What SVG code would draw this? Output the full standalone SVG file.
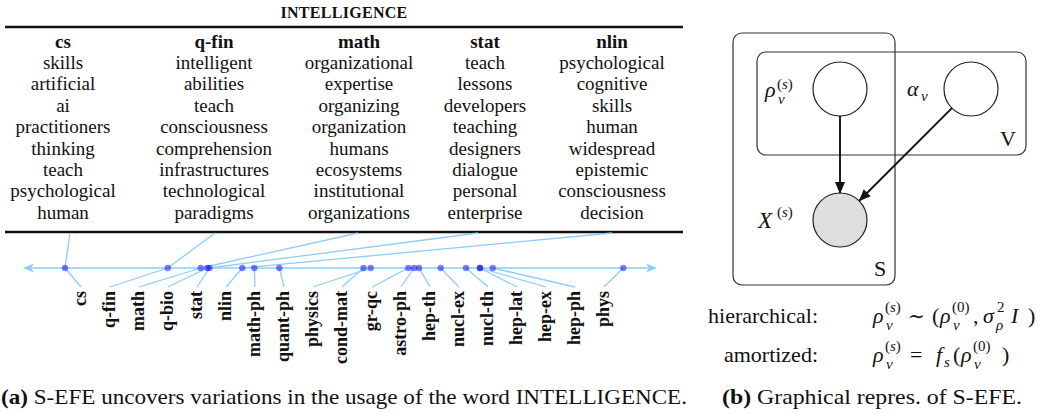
<svg xmlns="http://www.w3.org/2000/svg" width="1050" height="414" viewBox="0 0 1050 414">
<style>
.t{font-family:"Liberation Serif",serif;font-size:19px;fill:#111;text-anchor:middle}
.h{font-weight:bold}
.lab{font-family:"Liberation Serif",serif;font-size:18px;font-weight:bold;fill:#111;text-anchor:end}
.ax{stroke:#8ccdfb;stroke-width:1.3;fill:none}
.dot{fill:#0000ff;fill-opacity:0.5}
.rule{stroke:#111;stroke-width:2.6}
.m{font-family:"Liberation Serif",serif;font-size:22px;fill:#111;font-style:italic}
.r{font-family:"Liberation Serif",serif;font-size:22px;fill:#111}
.s{font-family:"Liberation Serif",serif;font-size:15px;fill:#111}
.plate{fill:none;stroke:#333;stroke-width:1.2}
.node{fill:#fff;stroke:#222;stroke-width:1.2}
.edge{stroke:#111;stroke-width:1.9;fill:none}
.cap{font-family:"Liberation Serif",serif;font-size:21px;fill:#111}
</style>
<defs>
<marker id="ah" viewBox="0 0 12 10" refX="11" refY="5" markerWidth="12" markerHeight="10" orient="auto" markerUnits="userSpaceOnUse">
<path d="M0,0 L12,5 L0,10 z" fill="#111"/>
</marker>
</defs>

<!-- table -->
<g id="table">
<text x="344" y="18" class="t h" style="font-size:16px;letter-spacing:0.3px">INTELLIGENCE</text>
<line x1="5" y1="27" x2="683" y2="27" class="rule"/>
<line x1="5" y1="232" x2="683" y2="232" class="rule"/>
<g id="col-cs">
<text x="63" y="48" class="t h">cs</text>
<text x="63" y="69" class="t">skills</text>
<text x="63" y="90" class="t">artificial</text>
<text x="63" y="111.5" class="t">ai</text>
<text x="63" y="133" class="t">practitioners</text>
<text x="63" y="154.5" class="t">thinking</text>
<text x="63" y="176" class="t">teach</text>
<text x="63" y="197" class="t">psychological</text>
<text x="63" y="218.5" class="t">human</text>
</g>
<g id="col-qfin">
<text x="214" y="48" class="t h">q-fin</text>
<text x="214" y="69" class="t">intelligent</text>
<text x="214" y="90" class="t">abilities</text>
<text x="214" y="111.5" class="t">teach</text>
<text x="214" y="133" class="t">consciousness</text>
<text x="214" y="154.5" class="t">comprehension</text>
<text x="214" y="176" class="t">infrastructures</text>
<text x="214" y="197" class="t">technological</text>
<text x="214" y="218.5" class="t">paradigms</text>
</g>
<g id="col-math">
<text x="359" y="48" class="t h">math</text>
<text x="359" y="69" class="t">organizational</text>
<text x="359" y="90" class="t">expertise</text>
<text x="359" y="111.5" class="t">organizing</text>
<text x="359" y="133" class="t">organization</text>
<text x="359" y="154.5" class="t">humans</text>
<text x="359" y="176" class="t">ecosystems</text>
<text x="359" y="197" class="t">institutional</text>
<text x="359" y="218.5" class="t">organizations</text>
</g>
<g id="col-stat">
<text x="485" y="48" class="t h">stat</text>
<text x="485" y="69" class="t">teach</text>
<text x="485" y="90" class="t">lessons</text>
<text x="485" y="111.5" class="t">developers</text>
<text x="485" y="133" class="t">teaching</text>
<text x="485" y="154.5" class="t">designers</text>
<text x="485" y="176" class="t">dialogue</text>
<text x="485" y="197" class="t">personal</text>
<text x="485" y="218.5" class="t">enterprise</text>
</g>
<g id="col-nlin">
<text x="612" y="48" class="t h">nlin</text>
<text x="612" y="69" class="t">psychological</text>
<text x="612" y="90" class="t">cognitive</text>
<text x="612" y="111.5" class="t">skills</text>
<text x="612" y="133" class="t">human</text>
<text x="612" y="154.5" class="t">widespread</text>
<text x="612" y="176" class="t">epistemic</text>
<text x="612" y="197" class="t">consciousness</text>
<text x="612" y="218.5" class="t">decision</text>
</g>
</g>

<!-- axis -->
<g id="axis">
<line x1="28" y1="268" x2="651" y2="268" class="ax"/>
<path d="M23,268 L34,263.5 L31,268 L34,272.5 z" fill="#8ccdfb"/>
<path d="M657,268 L646,263.5 L649,268 L646,272.5 z" fill="#8ccdfb"/>
<g class="ax">
<line x1="70" y1="233" x2="65" y2="268"/>
<line x1="215" y1="233" x2="167.7" y2="268"/>
<line x1="358" y1="233" x2="200.7" y2="268"/>
<line x1="478" y1="233" x2="209.5" y2="268"/>
<line x1="612" y1="233" x2="242.3" y2="268"/>
<line x1="65" y1="268" x2="81" y2="287"/>
<line x1="167.7" y1="268" x2="110" y2="287"/>
<line x1="200.7" y1="268" x2="139" y2="287"/>
<line x1="207.3" y1="268" x2="168" y2="287"/>
<line x1="209.5" y1="268" x2="197" y2="287"/>
<line x1="242.3" y1="268" x2="226" y2="287"/>
<line x1="254.3" y1="268" x2="255" y2="287"/>
<line x1="279.3" y1="268" x2="284" y2="287"/>
<line x1="370.7" y1="268" x2="313" y2="287"/>
<line x1="363.5" y1="268" x2="342" y2="287"/>
<line x1="408.3" y1="268" x2="372" y2="287"/>
<line x1="414" y1="268" x2="401" y2="287"/>
<line x1="419" y1="268" x2="430" y2="287"/>
<line x1="440.7" y1="268" x2="459" y2="287"/>
<line x1="466" y1="268" x2="488" y2="287"/>
<line x1="480" y1="268" x2="517" y2="287"/>
<line x1="480" y1="268" x2="546" y2="287"/>
<line x1="492.7" y1="268" x2="575" y2="287"/>
<line x1="623.3" y1="268" x2="604" y2="287"/>
</g>
<g class="dot">
<circle cx="65" cy="268" r="3.2"/>
<circle cx="167.7" cy="268" r="3.2"/>
<circle cx="200.7" cy="268" r="3.2"/>
<circle cx="207.3" cy="268" r="3.2"/>
<circle cx="209.5" cy="268" r="3.2"/>
<circle cx="242.3" cy="268" r="3.2"/>
<circle cx="254.3" cy="268" r="3.2"/>
<circle cx="279.3" cy="268" r="3.2"/>
<circle cx="363.5" cy="268" r="3.2"/>
<circle cx="370.7" cy="268" r="3.2"/>
<circle cx="408.3" cy="268" r="3.2"/>
<circle cx="414" cy="268" r="3.2"/>
<circle cx="419" cy="268" r="3.2"/>
<circle cx="440.7" cy="268" r="3.2"/>
<circle cx="466" cy="268" r="3.2"/>
<circle cx="480" cy="268" r="3.2"/>
<circle cx="480" cy="268" r="3.2"/>
<circle cx="492.7" cy="268" r="3.2"/>
<circle cx="623.3" cy="268" r="3.2"/>
</g>
<g class="lab">
<text transform="translate(86,291) rotate(-90)">cs</text>
<text transform="translate(115,291) rotate(-90)">q-fin</text>
<text transform="translate(144,291) rotate(-90)">math</text>
<text transform="translate(173,291) rotate(-90)">q-bio</text>
<text transform="translate(202,291) rotate(-90)">stat</text>
<text transform="translate(231,291) rotate(-90)">nlin</text>
<text transform="translate(260,291) rotate(-90)">math-ph</text>
<text transform="translate(289,291) rotate(-90)">quant-ph</text>
<text transform="translate(318,291) rotate(-90)">physics</text>
<text transform="translate(347,291) rotate(-90)">cond-mat</text>
<text transform="translate(377,291) rotate(-90)">gr-qc</text>
<text transform="translate(406,291) rotate(-90)">astro-ph</text>
<text transform="translate(435,291) rotate(-90)">hep-th</text>
<text transform="translate(464,291) rotate(-90)">nucl-ex</text>
<text transform="translate(493,291) rotate(-90)">nucl-th</text>
<text transform="translate(522,291) rotate(-90)">hep-lat</text>
<text transform="translate(551,291) rotate(-90)">hep-ex</text>
<text transform="translate(580,291) rotate(-90)">hep-ph</text>
<text transform="translate(609,291) rotate(-90)">phys</text>
</g>
</g>

<!-- graphical model -->
<g id="plate-S">
<rect x="733" y="33" width="162" height="252" rx="9" class="plate"/>
<text x="880" y="276" class="r" text-anchor="middle">S</text>
</g>
<g id="plate-V">
<rect x="757" y="52" width="269" height="103" rx="9" class="plate"/>
<text x="1008" y="146" class="r" text-anchor="middle">V</text>
</g>
<g id="node-rho">
<circle cx="840" cy="89" r="27" class="node"/>
<text x="765" y="97" class="m">ρ</text>
<text x="777" y="89" class="s">(<tspan font-style="italic">s</tspan>)</text>
<text x="778" y="104" class="s" font-style="italic">v</text>
</g>
<g id="node-alpha">
<circle cx="971" cy="89" r="27" class="node"/>
<text x="907" y="96" class="m">α</text>
<text x="921" y="101" class="s" font-style="italic">v</text>
</g>
<g id="node-X">
<circle cx="840" cy="220" r="27" class="node" style="fill:#dedede"/>
<text x="758" y="228" class="m" style="font-size:23px">X</text>
<text x="777" y="217" class="s">(<tspan font-style="italic">s</tspan>)</text>
</g>
<g id="edges">
<line x1="840" y1="116" x2="840" y2="193" class="edge" marker-end="url(#ah)"/>
<line x1="951.9" y1="108.1" x2="859.5" y2="200.5" class="edge" marker-end="url(#ah)"/>
</g>

<!-- formulas -->
<g id="formulas">
<text x="818" y="323" class="r" text-anchor="end">hierarchical:</text>
<text x="818" y="362" class="r" text-anchor="end">amortized:</text>
<text x="873" y="323" class="m">ρ</text>
<text x="885" y="312" class="s">(<tspan font-style="italic">s</tspan>)</text>
<text x="886" y="330" class="s" font-style="italic">v</text>
<text x="908" y="323" class="r" style="font-family:'DejaVu Serif',serif;font-size:20px">∼</text>
<text x="932" y="323" class="r">(</text>
<text x="940" y="323" class="m">ρ</text>
<text x="952" y="312" class="s">(0)</text>
<text x="953" y="330" class="s" font-style="italic">v</text>
<text x="973" y="323" class="r">,</text>
<text x="983" y="323" class="m">σ</text>
<text x="997" y="312" class="s">2</text>
<text x="996" y="330" class="s" font-style="italic">ρ</text>
<text x="1011" y="323" class="m">I</text>
<text x="1028" y="323" class="r">)</text>
<text x="873" y="362" class="m">ρ</text>
<text x="885" y="351" class="s">(<tspan font-style="italic">s</tspan>)</text>
<text x="886" y="369" class="s" font-style="italic">v</text>
<text x="910" y="362" class="r">=</text>
<text x="936" y="362" class="m">f</text>
<text x="944" y="367" class="s" font-style="italic">s</text>
<text x="953" y="362" class="r">(</text>
<text x="961" y="362" class="m">ρ</text>
<text x="973" y="351" class="s">(0)</text>
<text x="974" y="369" class="s" font-style="italic">v</text>
<text x="1002" y="362" class="r">)</text>
</g>

<!-- captions -->
<text x="1" y="404" class="cap" textLength="686" lengthAdjust="spacingAndGlyphs"><tspan font-weight="bold">(a)</tspan> S-EFE uncovers variations in the usage of the word INTELLIGENCE.</text>
<text x="722" y="404" class="cap" textLength="300" lengthAdjust="spacingAndGlyphs"><tspan font-weight="bold">(b)</tspan> Graphical repres. of S-EFE.</text>
</svg>
